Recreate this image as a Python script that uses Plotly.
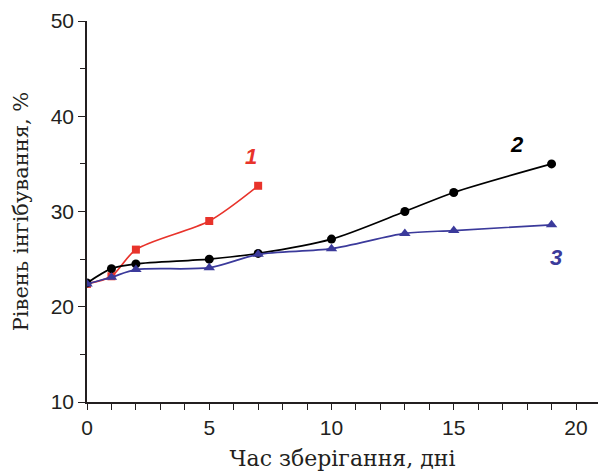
import plotly.graph_objects as go

# Data
x1 = [0, 1, 2, 5, 7]
y1 = [22.4, 23.2, 26.0, 29.0, 32.7]
x2 = [0, 1, 2, 5, 7, 10, 13, 15, 19]
y2 = [22.5, 24.0, 24.5, 25.0, 25.6, 27.1, 30.0, 32.0, 35.0]
x3 = [0, 1, 2, 5, 7, 10, 13, 15, 19]
y3 = [22.4, 23.1, 23.9, 24.1, 25.5, 26.1, 27.7, 28.0, 28.6]

RED = "#e8332b"
BLACK = "#000000"
BLUE = "#3b3a9b"

fig = go.Figure()
fig.add_trace(go.Scatter(x=x1, y=y1, mode="lines+markers",
                         line=dict(color=RED, width=1.7, shape="spline", smoothing=0.8),
                         marker=dict(symbol="square", size=8, color=RED)))
fig.add_trace(go.Scatter(x=x2, y=y2, mode="lines+markers",
                         line=dict(color=BLACK, width=1.7, shape="spline", smoothing=0.8),
                         marker=dict(symbol="circle", size=9, color=BLACK)))
fig.add_trace(go.Scatter(x=x3, y=y3, mode="lines+markers",
                         line=dict(color=BLUE, width=1.7, shape="spline", smoothing=0.8),
                         marker=dict(symbol="triangle-up", size=10, color=BLUE)))

lab_font = dict(family="Liberation Sans, Arial", size=22)
fig.add_annotation(x=6.7, y=35.8, text="<b><i>1</i></b>", showarrow=False, font=dict(color=RED, **lab_font))
fig.add_annotation(x=17.6, y=37.0, text="<b><i>2</i></b>", showarrow=False, font=dict(color=BLACK, **lab_font))
fig.add_annotation(x=19.2, y=25.2, text="<b><i>3</i></b>", showarrow=False, font=dict(color=BLUE, **lab_font))

axis_common = dict(showgrid=False, zeroline=False, showline=True, linecolor="#231f20", linewidth=1.5,
                   ticks="outside", tickcolor="#231f20", tickwidth=1.3, automargin=False,
                   tickfont=dict(family="Liberation Sans, Arial", size=21, color="#231f20"))

fig.update_xaxes(range=[0, 20.9], tickvals=[0, 5, 10, 15, 20], ticklen=6,
                 minor=dict(dtick=1, tick0=0, ticks="outside", ticklen=6, tickcolor="#231f20", tickwidth=1.3),
                 title=dict(text="Час зберігання, дні", font=dict(family="DejaVu Serif", size=22, color="#231f20"), standoff=14),
                 **axis_common)
fig.update_yaxes(range=[10, 50], tickvals=[10, 20, 30, 40, 50], ticklen=7,
                 minor=dict(dtick=5, tick0=0, ticks="outside", ticklen=5, tickcolor="#231f20", tickwidth=1.3),
                 title=dict(text="Рівень інгібування, %", font=dict(family="DejaVu Serif", size=21, color="#231f20"), standoff=16),
                 **axis_common)

fig.update_layout(width=606, height=471, showlegend=False, plot_bgcolor="white", paper_bgcolor="white",
                  margin=dict(l=87, r=8, t=21, b=69))

fig.write_html("out.html")
